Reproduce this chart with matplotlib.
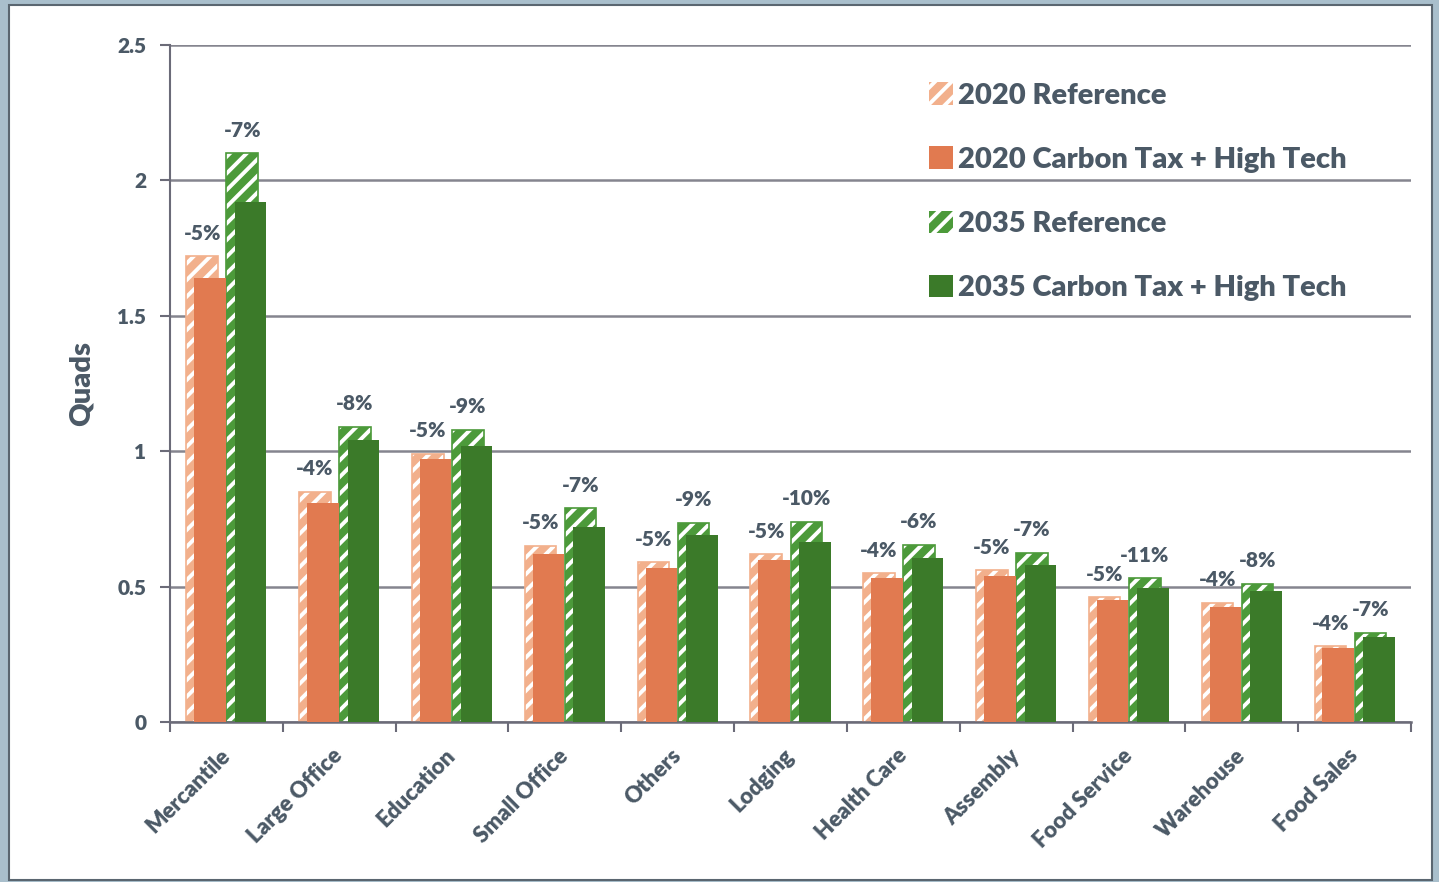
import numpy as np
import matplotlib
matplotlib.use("Agg")
from matplotlib import pyplot as plt
from matplotlib.patches import Patch, Rectangle

# end-use consumption by building type (quads)
categories = ["Mercantile", "Large Office", "Education", "Small Office", "Others", "Lodging",
              "Health Care", "Assembly", "Food Service", "Warehouse", "Food Sales"]
ref_2020 = [1.72, 0.85, 0.99, 0.65, 0.59, 0.62, 0.55, 0.56, 0.46, 0.44, 0.28]
tax_2020 = [1.64, 0.81, 0.97, 0.62, 0.57, 0.60, 0.53, 0.54, 0.45, 0.425, 0.273]
ref_2035 = [2.10, 1.09, 1.08, 0.79, 0.735, 0.74, 0.655, 0.625, 0.53, 0.51, 0.33]
tax_2035 = [1.92, 1.04, 1.02, 0.72, 0.69, 0.665, 0.605, 0.58, 0.495, 0.485, 0.315]
pct_2020 = ["-5%", "-4%", "-5%", "-5%", "-5%", "-5%", "-4%", "-5%", "-5%", "-4%", "-4%"]
pct_2035 = ["-7%", "-8%", "-9%", "-7%", "-9%", "-10%", "-6%", "-7%", "-11%", "-8%", "-7%"]

txt = "#4b5966"
orange = "#e17a50"
orange_h = "#f2b08c"
green = "#3b7a29"
green_h = "#4c9a3a"
wt = "heavy"

plt.rcParams["font.family"] = ["Lato", "DejaVu Sans"]
plt.rcParams["font.weight"] = wt
plt.rcParams["hatch.linewidth"] = 2.8

fig = plt.figure(figsize=(14.39, 8.82), dpi=100, facecolor="#a9bfcc")
fig.patches.append(Rectangle((9/1439, 2/882), 1423/1439, 875/882, transform=fig.transFigure,
                             facecolor="white", edgecolor="#5a6670", lw=1.5, zorder=-1))
ax = fig.add_axes([170/1439, 1 - 722/882, 1241/1439, 677/882])
ax.set_facecolor("none")

x = np.arange(len(categories))
w = 0.28
ax.bar(x - 0.215, ref_2020, w, facecolor=orange_h, edgecolor="white", hatch="//", lw=0, zorder=2)
ax.bar(x - 0.215, ref_2020, w, fill=False, edgecolor=orange_h, lw=1.2, zorder=2)
ax.bar(x - 0.145, tax_2020, w, color=orange, lw=0, zorder=3)
ax.bar(x + 0.14, ref_2035, w, facecolor=green_h, edgecolor="white", hatch="//", lw=0, zorder=2)
ax.bar(x + 0.14, ref_2035, w, fill=False, edgecolor=green_h, lw=1.2, zorder=2)
ax.bar(x + 0.215, tax_2035, w, color=green, lw=0, zorder=3)

for i in range(len(categories)):
    ax.text(x[i] - 0.215, ref_2020[i] + 0.085, pct_2020[i], ha="center", va="center",
            fontsize=15, color=txt, fontweight=wt)
    ax.text(x[i] + 0.14, ref_2035[i] + 0.085, pct_2035[i], ha="center", va="center",
            fontsize=15, color=txt, fontweight=wt)

ax.set_xlim(-0.5, len(categories) - 0.5)
ax.set_ylim(0, 2.5)
ax.set_yticks([0, 0.5, 1, 1.5, 2, 2.5])
ax.set_yticklabels(["0", "0.5", "1", "1.5", "2", "2.5"])
ax.yaxis.grid(True, color="#85858f", lw=1.8)
ax.set_axisbelow(True)

ax.set_xticks(x)
ax.set_xticklabels(categories, rotation=45, ha="right", va="center", rotation_mode="anchor")
ax.set_xticks(np.arange(len(categories) + 1) - 0.5, minor=True)
ax.tick_params(axis="x", which="major", length=0, pad=22, labelsize=16, labelcolor=txt)
ax.tick_params(axis="x", which="minor", length=7, width=1.5, color="#6b6b78", direction="out")
ax.tick_params(axis="y", length=7, width=1.5, color="#6b6b78", pad=10, labelsize=15, labelcolor=txt)

for s in ["top", "right"]:
    ax.spines[s].set_visible(False)
ax.spines["left"].set_color("#6b6b78")
ax.spines["left"].set_linewidth(1.5)
ax.spines["bottom"].set_color("#6b6b78")
ax.spines["bottom"].set_linewidth(1.8)

ax.set_ylabel("Quads", fontsize=21, color=txt, fontweight=wt, labelpad=16)

handles = [
    Patch(facecolor=orange_h, edgecolor="white", hatch="//", lw=0),
    Patch(facecolor=orange, lw=0),
    Patch(facecolor=green_h, edgecolor="white", hatch="//", lw=0),
    Patch(facecolor=green, lw=0),
]
labels = ["2020 Reference", "2020 Carbon Tax + High Tech",
          "2035 Reference", "2035 Carbon Tax + High Tech"]
leg = fig.legend(handles, labels, loc="upper left", bbox_to_anchor=(903/1439, 1 - 56/882),
                 frameon=False, fontsize=21, labelspacing=1.3, handlelength=0.8,
                 handleheight=0.8, handletextpad=0.2)
for t in leg.get_texts():
    t.set_color(txt)
    t.set_fontweight(wt)

plt.savefig("out.png", dpi=100, facecolor=fig.get_facecolor())
